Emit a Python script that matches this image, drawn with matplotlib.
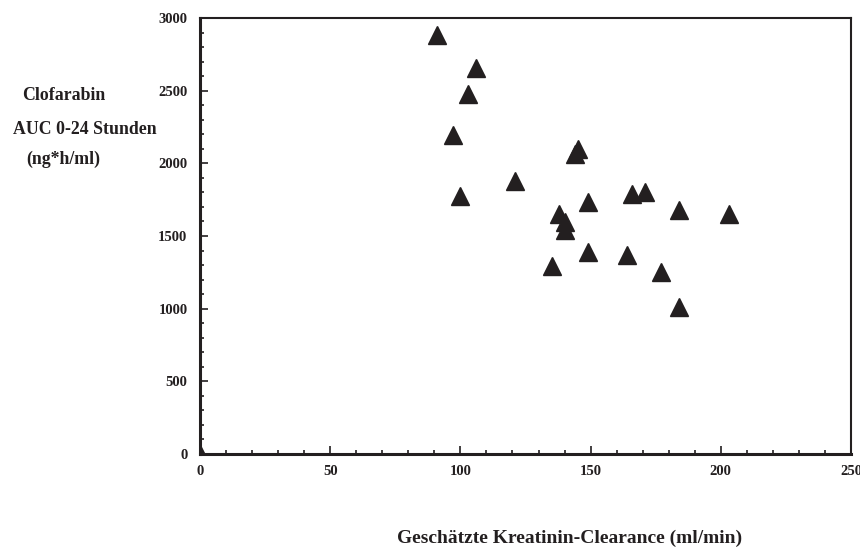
import matplotlib
matplotlib.use("Agg")
import matplotlib.pyplot as plt
from matplotlib.ticker import MultipleLocator

plt.rcParams['font.family'] = ['Liberation Serif', 'DejaVu Serif']

clearance = [0, 91, 106, 103, 97, 145, 144, 121, 100, 149, 166, 171, 184, 203,
             138, 140, 140, 149, 135, 164, 177, 184]
auc = [0, 2880, 2655, 2480, 2195, 2100, 2065, 1878, 1777, 1737, 1790, 1806, 1680, 1648,
       1653, 1595, 1540, 1390, 1292, 1370, 1250, 1011]

x_ticks = [0, 50, 100, 150, 200, 250]
y_ticks = [0, 500, 1000, 1500, 2000, 2500, 3000]

fig = plt.figure(figsize=(8.6, 5.49), dpi=100)
ax = fig.add_axes([200/860, 1-454/549, 651/860, 436/549])

ax.plot(clearance, auc, linestyle='none', marker='^', markersize=13.5,
        color='#231f20')

ax.set_xlim(0, 250)
ax.set_ylim(0, 3000)
ax.set_xticks(x_ticks)
ax.set_yticks(y_ticks)
ax.xaxis.set_minor_locator(MultipleLocator(10))
ax.yaxis.set_minor_locator(MultipleLocator(100))
ax.tick_params(which='both', direction='in', color='#231f20', width=1.2,
               labelsize=10.5, labelcolor='#231f20')
ax.tick_params(which='major', length=6)
ax.tick_params(which='minor', length=3)
ax.tick_params(axis='x', pad=8)
ax.tick_params(axis='y', pad=9)
for lab in ax.get_xticklabels() + ax.get_yticklabels():
    lab.set_fontweight('bold')

for side in ['left', 'bottom']:
    ax.spines[side].set_linewidth(2.2)
    ax.spines[side].set_color('#231f20')
for side in ['top', 'right']:
    ax.spines[side].set_linewidth(1.5)
    ax.spines[side].set_color('#231f20')

fig.text(64/860, 1-96/549, 'Clofarabin', ha='center', va='center',
         fontsize=12.8, fontweight='bold', color='#231f20')
fig.text(85/860, 1-129/549, 'AUC 0-24 Stunden', ha='center', va='center',
         fontsize=12.8, fontweight='bold', color='#231f20')
fig.text(63/860, 1-159/549, '(ng*h/ml)', ha='center', va='center',
         fontsize=12.8, fontweight='bold', color='#231f20')
fig.text(570/860, 1-538/549, 'Geschätzte Kreatinin-Clearance (ml/min)',
         ha='center', va='center', fontsize=14, fontweight='bold',
         color='#231f20')

fig.savefig('out.png', dpi=100)
